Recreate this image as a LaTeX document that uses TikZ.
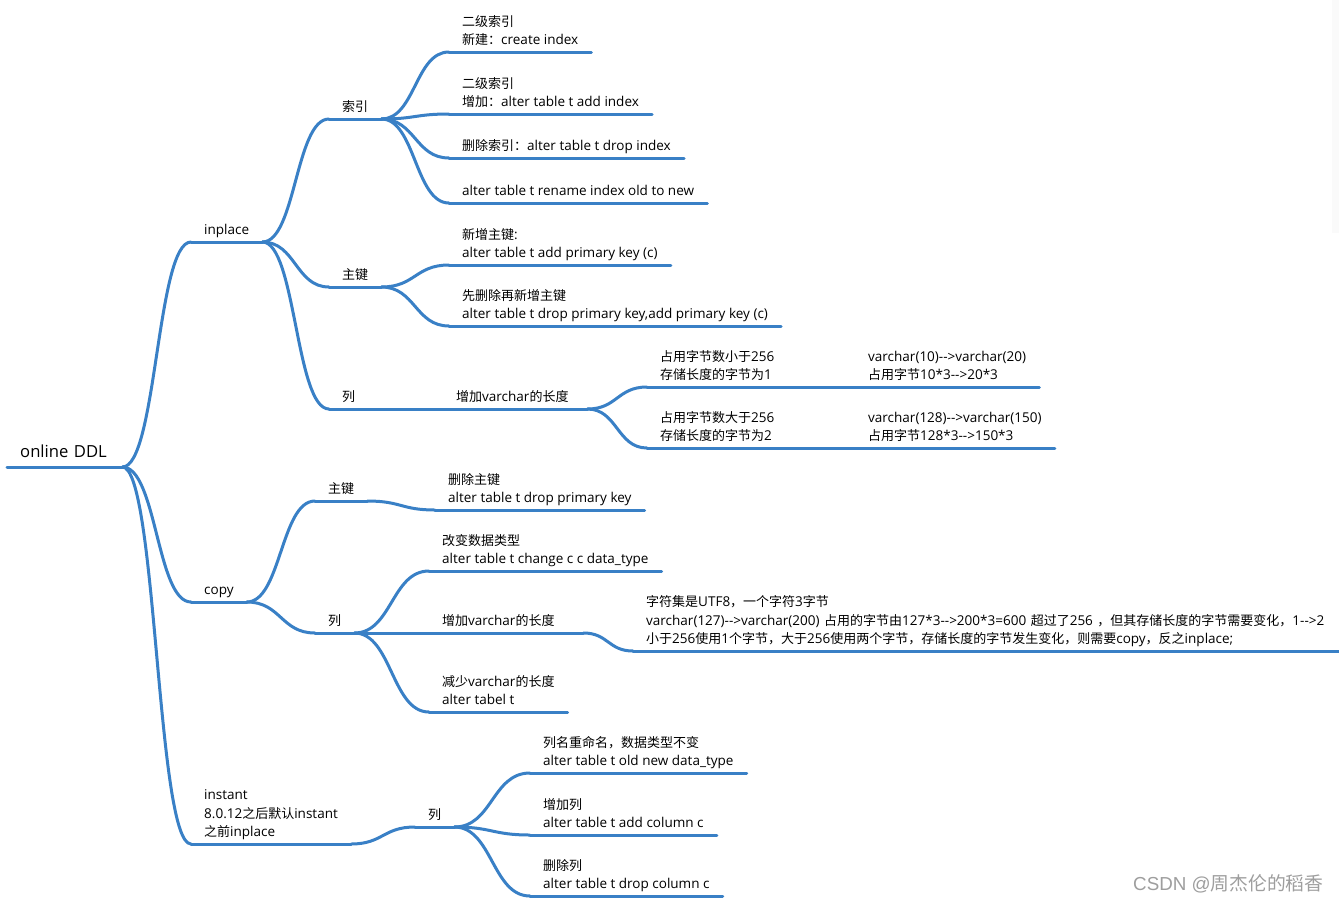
\documentclass[tikz,border=0pt]{standalone}
\usepackage{fontspec}
\setmainfont{Open Sans}[Ligatures=TeXOff, Scale=1.04]
\newfontfamily\cjkfont{Noto Sans CJK SC}
\newfontfamily\wmfont{Liberation Sans}
\usetikzlibrary{calc}
\XeTeXinterchartokenstate=1
\newXeTeXintercharclass\cjkclass
\newcount\cjkcnt
\def\setcjkrange#1#2{\cjkcnt=#1\relax\loop\XeTeXcharclass\cjkcnt=\cjkclass\advance\cjkcnt by 1\relax\ifnum\cjkcnt<#2\relax\repeat}
\setcjkrange{"2E80}{"A000}
\setcjkrange{"FF00}{"FFF0}
\XeTeXinterchartoks 0 \cjkclass = {\begingroup\cjkfont}
\XeTeXinterchartoks 4095 \cjkclass = {\begingroup\cjkfont}
\XeTeXinterchartoks \cjkclass 0 = {\endgroup}
\XeTeXinterchartoks \cjkclass 4095 = {\endgroup}
\definecolor{lineblue}{RGB}{57,128,198}
\tikzset{
  uline/.style={draw=lineblue, line width=3pt, line cap=round},
  mm/.style={anchor=south west, inner xsep=13pt, inner ysep=3.5pt, align=left,
    font=\fontsize{13}{18.5}\selectfont, text=black,
    execute at end node={\rule[-3.5pt]{0pt}{3.5pt}},
    append after command={(\tikzlastnode.south west) edge[uline] (\tikzlastnode.south east)}},
  conn/.style={draw=lineblue, line width=3pt, line cap=round,
    to path={.. controls ($(\tikztostart)!0.5!(\tikztostart -| \tikztotarget)$) and ($(\tikztotarget)!0.5!(\tikztotarget -| \tikztostart)$) .. (\tikztotarget)}},
}
\begin{document}
\begin{tikzpicture}[x=1pt,y=-1pt]
\fill[white] (0,0) rectangle (1339,903);
\useasboundingbox (0,0) rectangle (1339,903);
\fill[black!2] (1332,0) rectangle (1339,233);
% level 0
\node[mm, font=\fontsize{16}{20}\selectfont, inner ysep=5.5pt, text width=89pt] (root) at (7,467) {\mbox{online DDL}};
% level 1
\node[mm] (inplace) at (191,242) {inplace};
\node[mm] (copy) at (191,602) {copy};
\node[mm] (instant) at (191,844) {instant\\8.0.12之后默认instant\\之前inplace};
% inplace
\node[mm] (ipidx) at (329,119) {索引};
\node[mm] (ippk) at (329,287) {主键};
\node[mm] (ipcol) at (329,409) {列};
\node[mm] (idx1) at (449,52) {二级索引\\新建：create index};
\node[mm] (idx2) at (449,114) {二级索引\\增加：alter table t add index};
\node[mm] (idx3) at (449,158) {删除索引：alter table t drop index};
\node[mm] (idx4) at (449,203) {alter table t rename index old to new};
\node[mm] (pk1) at (449,265) {新增主键:\\alter table t add primary key (c)};
\node[mm] (pk2) at (449,326) {先删除再新增主键\\alter table t drop primary key,add primary key (c)};
\node[mm, text width=118pt] (ipvc) at (443,409) {增加varchar的长度};
\node[mm] (vc1) at (647,387) {\makebox[208pt][l]{占用字节数小于256}varchar(10)-->varchar(20)\\\makebox[208pt][l]{存储长度的字节为1}占用字节10*3-->20*3};
\node[mm] (vc2) at (647,448) {\makebox[208pt][l]{占用字节数大于256}varchar(128)-->varchar(150)\\\makebox[208pt][l]{存储长度的字节为2}占用字节128*3-->150*3};
% copy
\node[mm] (cppk) at (315,501) {主键};
\node[mm] (cpcol) at (315,633) {列};
\node[mm] (cpk1) at (435,510) {删除主键\\alter table t drop primary key};
\node[mm] (cc1) at (429,571) {改变数据类型\\alter table t change c c data\_type};
\node[mm, text width=128pt] (cc2) at (429,633) {增加varchar的长度};
\node[mm, text width=680pt] (cc2a) at (633,651) {\mbox{字符集是UTF8，一个字符3字节}\\\mbox{varchar(127)-->varchar(200) 占用的字节由127*3-->200*3=600 超过了256 ，但其存储长度的字节需要变化，1-->2}\\\mbox{小于256使用1个字节，大于256使用两个字节，存储长度的字节发生变化，则需要copy，反之inplace;}};
\node[mm] (cc3) at (429,712) {减少varchar的长度\\alter tabel t};
% instant
\node[mm] (incol) at (415,827) {列};
\node[mm] (ic1) at (530,773) {列名重命名，数据类型不变\\alter table t old new data\_type};
\node[mm] (ic2) at (530,835) {增加列\\alter table t add column c};
\node[mm] (ic3) at (530,896) {删除列\\alter table t drop column c};
% connectors
\draw[conn] (root.south east) to (inplace.south west);
\draw[conn] (root.south east) to (copy.south west);
\draw[conn] (root.south east) to (instant.south west);
\draw[conn] (inplace.south east) to (ipidx.south west);
\draw[conn] (inplace.south east) to (ippk.south west);
\draw[conn] (inplace.south east) to (ipcol.south west);
\draw[conn] (ipidx.south east) to (idx1.south west);
\draw[conn] (ipidx.south east) to (idx2.south west);
\draw[conn] (ipidx.south east) to (idx3.south west);
\draw[conn] (ipidx.south east) to (idx4.south west);
\draw[conn] (ippk.south east) to (pk1.south west);
\draw[conn] (ippk.south east) to (pk2.south west);
\draw[conn] (ipcol.south east) to (ipvc.south west);
\draw[conn] (ipvc.south east) to (vc1.south west);
\draw[conn] (ipvc.south east) to (vc2.south west);
\draw[conn] (copy.south east) to (cppk.south west);
\draw[conn] (copy.south east) to (cpcol.south west);
\draw[conn] (cppk.south east) to (cpk1.south west);
\draw[conn] (cpcol.south east) to (cc1.south west);
\draw[conn] (cpcol.south east) to (cc2.south west);
\draw[conn] (cpcol.south east) to (cc3.south west);
\draw[conn] (cc2.south east) to (cc2a.south west);
\draw[conn] (instant.south east) to (incol.south west);
\draw[conn] (incol.south east) to (ic1.south west);
\draw[conn] (incol.south east) to (ic2.south west);
\draw[conn] (incol.south east) to (ic3.south west);
% watermark
\node[font=\wmfont\fontsize{18.8}{22}\selectfont, text=black!38, anchor=west, inner sep=0pt] (wm) at (1133,884) {CSDN @周杰伦的稻香};
\end{tikzpicture}
\end{document}
